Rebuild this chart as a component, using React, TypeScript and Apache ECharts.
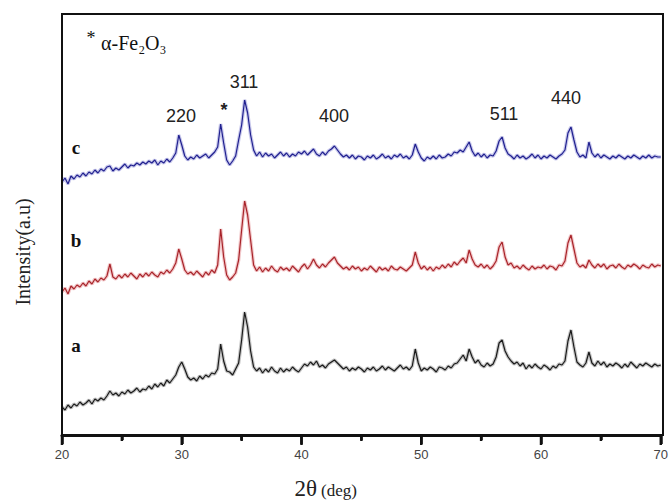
import React, { useEffect, useRef } from "react";
import * as echarts from "echarts";

const ANGLE_START = 20;
const ANGLE_STEP = 0.25;

// Heights above the x axis (arbitrary intensity units), sampled every 0.25 deg from 20 to 70
const seriesA: number[] = [
  28, 25, 30, 27, 31, 29, 33, 30, 32, 35, 31, 36, 34, 37, 35, 39,
  44, 40, 42, 39, 43, 41, 45, 42, 44, 47, 43, 46, 45, 49, 46, 51,
  48, 52, 49, 55, 52, 56, 60, 68, 73, 66, 58, 55, 57, 54, 59, 56,
  60, 58, 62, 61, 66, 91, 74, 64, 63, 60, 66, 72, 95, 123, 108, 84,
  68, 64, 67, 62, 66, 63, 68, 64, 62, 67, 63, 66, 64, 68, 65, 63,
  67, 71, 69, 73, 70, 74, 68, 70, 67, 71, 73, 75, 72, 69, 66, 68,
  64, 67, 65, 68, 66, 63, 67, 65, 68, 64, 66, 69, 65, 68, 66, 64,
  67, 70, 66, 68, 65, 69, 86, 72, 64, 67, 65, 68, 66, 63, 68, 67,
  65, 69, 67, 71, 72, 76, 80, 74, 86, 78, 72, 75, 70, 68, 72, 69,
  71, 78, 92, 95, 84, 78, 74, 71, 73, 69, 72, 66, 70, 67, 71, 68,
  66, 70, 68, 65, 69, 67, 71, 70, 74, 94, 105, 88, 73, 70, 68, 72,
  83, 72, 69, 74, 70, 73, 68, 71, 69, 72, 70, 67, 71, 68, 73, 70,
  67, 71, 69, 72, 70, 68, 71, 69, 70,
];

const seriesB: number[] = [
  143, 147, 141, 149, 146, 150, 148, 152, 149, 154, 151, 156, 153, 157, 155, 159,
  171, 158, 156, 160, 157, 161, 158, 162, 159, 156, 161, 158, 162, 159, 163, 160,
  158, 163, 161, 165, 162, 166, 172, 186, 176, 165, 161, 163, 160, 164, 161, 158,
  163, 160, 165, 162, 170, 206, 178, 160, 155, 158, 162, 175, 205, 234, 220, 195,
  170, 164, 168, 163, 167, 164, 169, 165, 163, 168, 165, 167, 164, 169, 166, 163,
  168, 171, 166, 170, 176, 170, 167, 171, 168, 172, 175, 178, 172, 169, 166, 168,
  165, 169, 166, 168, 164, 167, 165, 169, 166, 163, 168, 165, 167, 164, 169, 166,
  165, 168, 166, 164, 167, 170, 183, 172, 166, 169, 165, 168, 164, 168, 166, 170,
  167, 171, 168, 173, 170, 174, 177, 172, 185, 176, 170, 168, 171, 167, 170, 166,
  169, 174, 188, 193, 178, 170, 172, 167, 169, 166, 170, 167, 165, 169, 166, 168,
  167, 170, 166, 169, 168, 165, 170, 169, 174, 192, 200, 186, 172, 168, 170, 167,
  175, 170, 167, 171, 168, 171, 166, 169, 170, 167, 171, 168, 166, 170, 168, 171,
  169, 166, 170, 168, 167, 171, 168, 170, 169,
];

const seriesC: number[] = [
  253, 257, 251, 259, 256, 260, 258, 262, 259, 263, 261, 265, 262, 266, 264, 268,
  269, 264, 267, 265, 268, 271, 267, 270, 269, 272, 270, 273, 271, 274, 272, 275,
  270, 274, 272, 276, 273, 277, 282, 300, 290, 279, 275, 278, 276, 280, 277, 279,
  281, 277, 280, 283, 288, 311, 292, 275, 270, 274, 279, 295, 310, 335, 322, 300,
  285, 279, 283, 278, 282, 279, 281, 277, 280, 283, 279, 282, 278, 281, 279, 283,
  281, 284, 280, 283, 286, 281, 279, 283, 280, 284, 286, 289, 285, 281, 278, 280,
  277, 280, 276, 279, 278, 275, 279, 277, 280, 276, 278, 281, 277, 279, 276, 280,
  278, 281, 277, 279, 276, 280, 291, 283, 277, 274, 278, 276, 279, 276, 280, 277,
  278, 281, 279, 283, 282, 285, 283, 288, 293, 284, 279, 282, 278, 281, 277, 280,
  279, 284, 294, 298, 287, 281, 279, 276, 280, 277, 279, 276, 278, 281, 277, 280,
  276, 279, 277, 280, 278, 276, 279, 281, 285, 302, 308, 295, 283, 278, 280, 277,
  293, 282, 278, 281, 277, 280, 278, 276, 279, 277, 280, 278, 276, 279, 277, 280,
  278, 276, 279, 277, 280, 277, 279, 278, 278,
];

const X_MIN = 20;
const X_MAX = 70;
const MAJOR_TICKS = [20, 30, 40, 50, 60, 70];
const MINOR_TICKS = [25, 35, 45, 55, 65];
const PEAK_LABELS = [
  { text: "220", x: 181, y: 116 },
  { text: "311", x: 244, y: 82 },
  { text: "400", x: 334, y: 116 },
  { text: "511", x: 504, y: 114 },
  { text: "440", x: 566, y: 98 },
];
const CURVE_LABELS = [
  { text: "c", y: 147 },
  { text: "b", y: 240 },
  { text: "a", y: 345 },
];

const toPairs = (vals: number[]) =>
  vals.map((v, i) => [ANGLE_START + i * ANGLE_STEP, v]);

export default function App() {
  const ref = useRef<HTMLDivElement>(null);
  useEffect(() => {
    if (!ref.current) return;
    const chart = echarts.init(ref.current, null, { renderer: "svg" });
    const serif = "'Liberation Serif', 'DejaVu Serif', serif";
    const sans = "'Liberation Sans', Arial, sans-serif";
    const lineSeries = (name: string, vals: number[], color: string, halo: boolean) => ({
      name,
      type: "line",
      data: toPairs(vals),
      showSymbol: false,
      symbol: "none",
      silent: true,
      lineStyle: halo
        ? { color, width: 3.5, opacity: 0.28 }
        : { color, width: 1.2 },
      z: halo ? 2 : 3,
    });
    const tickData = [
      ...MAJOR_TICKS.map((v) => [v, 0, 10]),
      ...MINOR_TICKS.map((v) => [v, 0, 6]),
    ];
    chart.setOption({
      animation: false,
      backgroundColor: "#fff",
      grid: {
        left: 62,
        right: 8,
        top: 14,
        bottom: 68,
        show: false,
      },
      xAxis: {
        type: "value",
        min: X_MIN,
        max: X_MAX,
        interval: 10,
        axisLine: { show: true, onZero: false, lineStyle: { color: "#111", width: 3 } },
        axisTick: { show: true, inside: false, length: 9, lineStyle: { color: "#111", width: 2.5 } },
        minorTick: { show: true, splitNumber: 2, length: 5, lineStyle: { color: "#111", width: 2.5 } },
        axisLabel: { color: "#444", fontSize: 13, fontFamily: sans, margin: 13 },
        splitLine: { show: false },
      },
      yAxis: {
        type: "value",
        min: 0,
        max: 421,
        show: false,
      },
      series: [
        lineSeries("a-halo", seriesA, "#333333", true),
        lineSeries("b-halo", seriesB, "#d0383f", true),
        lineSeries("c-halo", seriesC, "#3a3ab8", true),
        lineSeries("a", seriesA, "#1a1a1a", false),
        lineSeries("b", seriesB, "#a8242a", false),
        lineSeries("c", seriesC, "#20208f", false),
        {
          name: "ticks",
          type: "custom",
          clip: false,
          silent: true,
          z: 20,
          data: tickData,
          renderItem: (params: any, api: any) => {
            const p = api.coord([api.value(0), api.value(1)]);
            const len = api.value(2);
            return {
              type: "rect",
              shape: { x: p[0] - 1.25, y: p[1], width: 2.5, height: len },
              style: { fill: "#111" },
            };
          },
        },
      ],
      graphic: [
        {
          type: "rect",
          shape: { x: 62, y: 14, width: 601, height: 421 },
          style: { fill: "none", stroke: "#111", lineWidth: 2 },
          silent: true,
          z: 10,
        },
        {
          type: "text",
          x: 91,
          y: 38,
          style: { text: "*", font: `18px ${serif}`, fill: "#111", align: "center", verticalAlign: "middle" },
        },
        {
          type: "text",
          x: 101,
          y: 43,
          style: { text: "α-Fe₂O₃", font: `20px ${serif}`, fill: "#111", align: "left", verticalAlign: "middle" },
        },
        ...PEAK_LABELS.map((p) => ({
          type: "text",
          x: p.x,
          y: p.y,
          style: {
            text: p.text,
            font: `18px ${sans}`,
            fill: "#222",
            align: "center",
            verticalAlign: "middle",
          },
        })),
        {
          type: "text",
          x: 224,
          y: 110,
          style: { text: "*", font: `bold 18px ${sans}`, fill: "#222", align: "center", verticalAlign: "middle" },
        },
        ...CURVE_LABELS.map((c) => ({
          type: "text",
          x: 76,
          y: c.y,
          style: { text: c.text, font: `bold 19px ${serif}`, fill: "#111", align: "center", verticalAlign: "middle" },
        })),
        {
          type: "text",
          x: 23,
          y: 252,
          rotation: Math.PI / 2,
          style: {
            text: "Intensity(a.u)",
            font: `20px ${serif}`,
            fill: "#222",
            align: "center",
            verticalAlign: "middle",
          },
        },
        {
          type: "text",
          x: 317,
          y: 500,
          style: { text: "2θ", font: `23px ${serif}`, fill: "#222", align: "right", verticalAlign: "bottom" },
        },
        {
          type: "text",
          x: 321,
          y: 499,
          style: { text: "(deg)", font: `17px ${serif}`, fill: "#222", align: "left", verticalAlign: "bottom" },
        },
      ],
    });
    return () => chart.dispose();
  }, []);
  return <div ref={ref} style={{ width: 671, height: 503, position: "absolute", left: 0, top: 0 }} />;
}
